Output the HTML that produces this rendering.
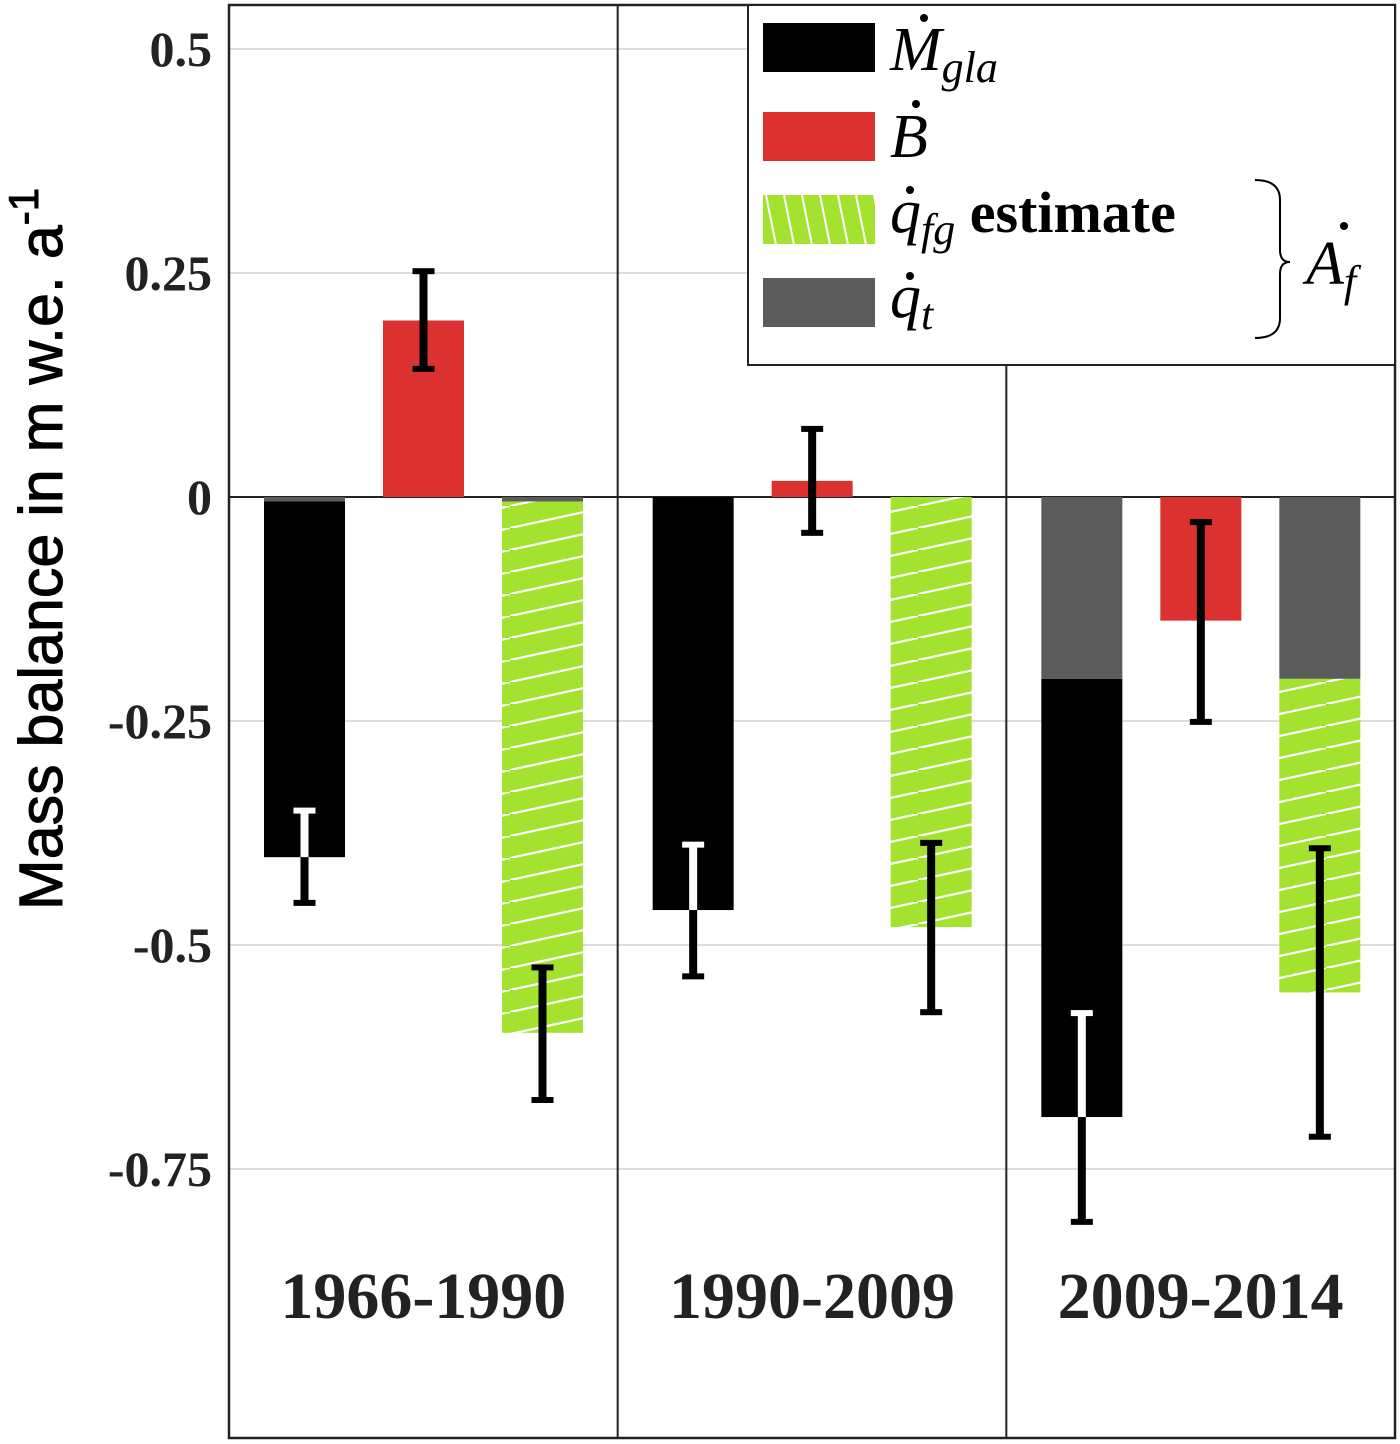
<!DOCTYPE html>
<html><head><meta charset="utf-8"><style>
html,body{margin:0;padding:0;background:#fff;}
svg{display:block;}
</style></head><body>
<svg id="chart" width="1400" height="1444" viewBox="0 0 1400 1444" xmlns="http://www.w3.org/2000/svg">
<defs>
<pattern id="hatch" patternUnits="userSpaceOnUse" width="102" height="22">
<rect width="102" height="22" fill="#a3e22e"/>
<line x1="-10" y1="24.2" x2="112" y2="-2.2" stroke="#fff" stroke-width="2.2"/>
</pattern>
<pattern id="hatchLegend" patternUnits="userSpaceOnUse" width="18" height="50" patternTransform="translate(763,195)">
<rect width="18" height="50" fill="#a3e22e"/>
<line x1="3" y1="0" x2="13" y2="50" stroke="#fff" stroke-width="2"/>
</pattern>
</defs>
<g id="grid"></g>
<g id="bars"></g>
<g id="errs"></g>
<g id="axes"></g>
<text transform="translate(62,549) rotate(-90)" text-anchor="middle" font-family="Liberation Sans, sans-serif" font-size="61" fill="#000" stroke="#000" stroke-width="1">Mass balance in m w.e. a<tspan dy="-24" font-size="42">-1</tspan></text>
<g>
<rect x="748" y="5" width="647" height="360" fill="#fff" stroke="#222" stroke-width="2"/>
<rect x="763" y="23" width="112" height="49" fill="#000"/>
<rect x="763" y="112" width="112" height="49" fill="#dc3131"/>
<rect x="763" y="195" width="112" height="49" fill="url(#hatchLegend)"/>
<rect x="763" y="278" width="112" height="49" fill="#5c5c5c"/>
<g font-family="Liberation Serif, serif" font-size="62" fill="#000">
<text x="890" y="70" font-style="italic">M<tspan font-size="44" dy="12">gla</tspan></text>
<circle cx="924" cy="18" r="4"/>
<text x="890" y="157" font-style="italic">B</text>
<circle cx="916" cy="104" r="4"/>
<text x="890" y="232"><tspan font-style="italic">q</tspan><tspan font-style="italic" font-size="44" dy="12">fg</tspan><tspan dy="-12" font-weight="bold" font-size="58"> estimate</tspan></text>
<circle cx="910" cy="190" r="4"/>
<text x="890" y="317" font-style="italic">q<tspan font-size="44" dy="12">t</tspan></text>
<circle cx="910" cy="276" r="4"/>
<path d="M1255,180 Q1280,180 1280,200 L1280,250 Q1280,262 1290,262 Q1280,262 1280,274 L1280,318 Q1280,338 1255,338" fill="none" stroke="#000" stroke-width="2"/>
<text x="1306" y="284" font-style="italic">A<tspan font-size="44" dy="12">f</tspan></text>
<circle cx="1344" cy="226" r="4"/>
</g>
</g>
</svg>
<script>
const ticks=[0.5,0.25,0,-0.25,-0.5,-0.75];
const tickLabels=["0.5","0.25","0","-0.25","-0.5","-0.75"];
const periods=["1966-1990","1990-2009","2009-2014"];
const mglaVals=[-0.402,-0.461,-0.692];
const mglaErrLo=[-0.453,-0.535,-0.809];
const mglaErrHi=[-0.35,-0.388,-0.576];
const bVals=[0.197,0.018,-0.138];
const bErrLo=[0.143,-0.04,-0.251];
const bErrHi=[0.252,0.076,-0.028];
const qtVals=[-0.005,0,-0.203];
const qfgVals=[-0.598,-0.48,-0.553];
const qfgErrLo=[-0.673,-0.575,-0.714];
const qfgErrHi=[-0.525,-0.386,-0.392];

const NS="http://www.w3.org/2000/svg";
const L=229,R=1395,T=5,B=1438;
const y0=497,ppu=896;
function y(v){return y0-v*ppu;}
const panelW=(R-L)/3;
function px(i,k){return L+panelW*i+35+k*119;}
const bw=81;
function mk(tag,attrs,parent){const e=document.createElementNS(NS,tag);for(const k in attrs)e.setAttribute(k,attrs[k]);parent.appendChild(e);return e;}
const grid=document.getElementById('grid'),bars=document.getElementById('bars'),errs=document.getElementById('errs'),axes=document.getElementById('axes');
ticks.forEach((t,i)=>{
  const ln=mk('line',{x1:L,x2:R,y1:y(t),y2:y(t),stroke:t===0?'#222':'#ddd','stroke-width':2},grid);
  
  
  const tx=mk('text',{x:212,y:y(t)+17,'text-anchor':'end','font-family':'Liberation Serif, serif','font-weight':'bold','font-size':50,fill:'#222'},axes);
  tx.textContent=tickLabels[i];
  
  
});
function bar(x,v1,v2,fill,name){
  const a=y(v1),b=y(v2);
  const r=mk('rect',{x:x,y:Math.min(a,b),width:bw,height:Math.abs(b-a),fill:fill},bars);
  
  
}
function err(x,lo,hi,bottomOfBar,name){
  const cx=x+bw/2,g=mk('g',{},errs);
  
  
  const yt=y(hi),yb=y(lo);
  const parts=[];
  if(bottomOfBar!==null){
    const yB=y(bottomOfBar);
    if(yt<yB){parts.push([yt,Math.min(yB,yb),'#fff']);}
    if(yb>yB){parts.push([Math.max(yt,yB),yb,'#000']);}
  } else parts.push([yt,yb,'#000']);
  parts.forEach(p=>mk('rect',{x:cx-4,y:p[0],width:8,height:p[1]-p[0],fill:p[2]},g));
  const inside=v=>bottomOfBar!==null&&y(v)<y(bottomOfBar);
  mk('rect',{x:cx-11,y:yt-3,width:22,height:6,fill:inside(hi)?'#fff':'#000'},g);
  mk('rect',{x:cx-11,y:yb-3,width:22,height:6,fill:inside(lo)?'#fff':'#000'},g);
}
for(let i=0;i<3;i++){
  const x0=px(i,0),x1=px(i,1),x2=px(i,2);
  bar(x0,0,qtVals[i],'#5c5c5c','bar-qt-mgla-'+i);
  bar(x0,qtVals[i],mglaVals[i],'#000','bar-mgla-'+i);
  bar(x1,0,bVals[i],'#dc3131','bar-b-'+i);
  bar(x2,0,qtVals[i],'#5c5c5c','bar-qt-'+i);
  bar(x2,qtVals[i],qfgVals[i],'url(#hatch)','bar-qfg-'+i);
  err(x0,mglaErrLo[i],mglaErrHi[i],mglaVals[i],'err-mgla-'+i);
  err(x1,bErrLo[i],bErrHi[i],null,'err-b-'+i);
  err(x2,qfgErrLo[i],qfgErrHi[i],null,'err-qfg-'+i);
  const t=mk('text',{x:L+panelW*(i+0.5),y:1318,'text-anchor':'middle','font-family':'Liberation Serif, serif','font-weight':'bold','font-size':66,fill:'#222'},axes);
  t.textContent=periods[i];
  
  
}
mk('rect',{x:L,y:T,width:R-L,height:B-T,fill:'none',stroke:'#222','stroke-width':2.5},axes);
[1,2].forEach(i=>{const l=mk('line',{x1:L+panelW*i,x2:L+panelW*i,y1:T,y2:B,stroke:'#222','stroke-width':2},axes);

});
</script>
</body></html>
